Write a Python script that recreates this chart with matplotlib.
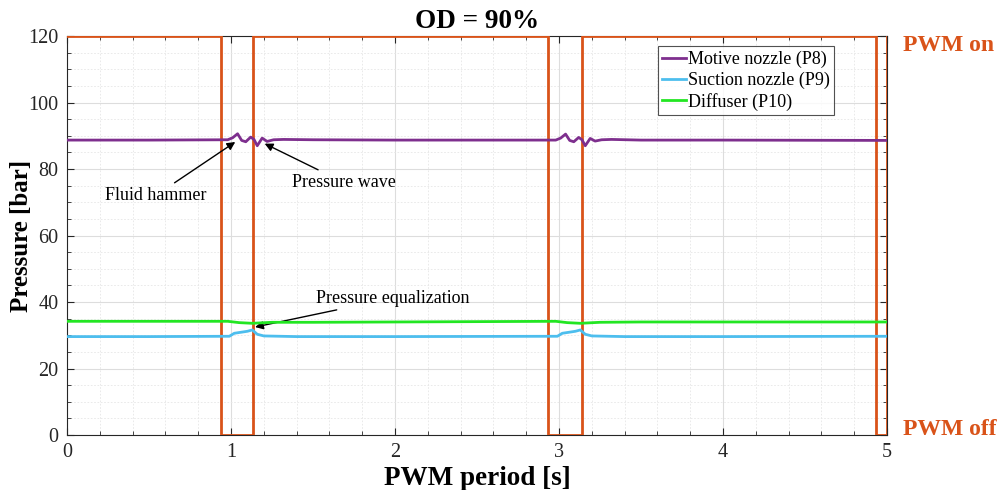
import matplotlib
matplotlib.use("Agg")
import matplotlib.pyplot as plt
from matplotlib.ticker import MultipleLocator

plt.rcParams['font.family'] = ['Liberation Serif', 'DejaVu Serif']

# PWM signal (on = 120, off = 0)
pwm_t = [0.0, 0.94, 0.94, 1.135, 1.135, 2.935, 2.935, 3.14, 3.14, 4.93, 4.93, 5.0, 5.0]
pwm_v = [120, 120, 0, 0, 120, 120, 0, 0, 120, 120, 0, 0, 120]

# Motive nozzle (P8)
p8_t = [0.0, 0.5, 0.98, 1.01, 1.04, 1.065, 1.09, 1.12, 1.14, 1.16, 1.19, 1.22, 1.26, 1.32, 1.5,
        2.0, 2.98, 3.01, 3.04, 3.065, 3.09, 3.12, 3.14, 3.16, 3.19, 3.22, 3.26, 3.32, 3.5, 4.0, 5.0]
p8_v = [88.7, 88.7, 88.8, 89.4, 90.6, 88.6, 88.2, 89.6, 88.9, 87.0, 89.3, 88.3, 88.8, 88.9, 88.8,
        88.7, 88.7, 89.3, 90.5, 88.6, 88.2, 89.5, 88.8, 87.0, 89.2, 88.4, 88.8, 88.9, 88.7, 88.7, 88.6]

# Suction nozzle (P9)
p9_t = [0.0, 0.5, 0.99, 1.02, 1.06, 1.10, 1.13, 1.16, 1.20, 1.4, 2.0,
        2.99, 3.02, 3.06, 3.10, 3.13, 3.16, 3.20, 3.4, 4.0, 5.0]
p9_v = [29.6, 29.6, 29.7, 30.6, 30.9, 31.2, 31.6, 30.3, 29.8, 29.6, 29.6,
        29.7, 30.6, 30.9, 31.2, 31.6, 30.3, 29.8, 29.6, 29.6, 29.7]

# Diffuser (P10)
p10_t = [0.0, 0.5, 0.98, 1.05, 1.13, 1.25, 1.5, 2.0,
         2.98, 3.05, 3.13, 3.25, 3.5, 4.0, 5.0]
p10_v = [34.2, 34.2, 34.2, 33.8, 33.6, 33.9, 33.9, 34.0,
         34.2, 33.8, 33.6, 33.9, 34.0, 34.0, 34.0]

fig = plt.figure(figsize=(9.97, 4.9), dpi=100)
ax = fig.add_axes([0.0672, 0.1122, 0.8225, 0.8143])

ax.plot(pwm_t, pwm_v, color='#D95319', lw=2.0, zorder=3)
ax.plot(p8_t, p8_v, color='#7E2F8E', lw=2.0, label='Motive nozzle (P8)', zorder=4)
ax.plot(p9_t, p9_v, color='#4DBEEE', lw=2.0, label='Suction nozzle (P9)', zorder=4)
ax.plot(p10_t, p10_v, color='#22E622', lw=2.0, label='Diffuser (P10)', zorder=4)

ax.set_xlim(0, 5)
ax.set_ylim(0, 120)
ax.xaxis.set_major_locator(MultipleLocator(1))
ax.xaxis.set_minor_locator(MultipleLocator(0.2))
ax.yaxis.set_major_locator(MultipleLocator(20))
ax.yaxis.set_minor_locator(MultipleLocator(5))
ax.grid(which='major', color='#dddddd', lw=0.8)
ax.grid(which='minor', color='#e6e6e6', lw=0.6, ls=(0, (2, 2)))
ax.set_axisbelow(True)
ax.tick_params(which='both', direction='in', top=True, right=True, labelsize=14.5, colors='#262626')
ax.tick_params(which='major', length=5, pad=6)
ax.tick_params(which='minor', length=3)
for s in ax.spines.values():
    s.set_color('#262626')
    s.set_linewidth(0.8)

ax.set_xlabel('PWM period [s]', fontsize=19.5, fontweight='bold', va='center')
ax.xaxis.set_label_coords(0.5, -0.108)
ax.set_ylabel('Pressure [bar]', fontsize=18, fontweight='bold', va='center')
ax.yaxis.set_label_coords(-0.055, 0.5)
ax.set_title('OD = 90%', fontsize=19.5, fontweight='bold', pad=6)

leg = ax.legend(loc='upper right', bbox_to_anchor=(0.9355, 0.974), fontsize=13,
                frameon=True, fancybox=False, edgecolor='#262626', handlelength=1.3,
                handletextpad=0.1, borderpad=0.25, labelspacing=0.2, borderaxespad=0)
leg.get_frame().set_linewidth(0.8)

ax.text(1.019, 0.975, 'PWM on', transform=ax.transAxes, color='#D95319', fontsize=17,
        fontweight='bold', va='center', ha='left')
ax.text(1.019, 0.015, 'PWM off', transform=ax.transAxes, color='#D95319', fontsize=17,
        fontweight='bold', va='center', ha='left')

arr = dict(arrowstyle='-|>', color='black', lw=1.0, mutation_scale=12)
ax.annotate('Fluid hammer', xy=(1.04, 88.6), xytext=(0.23, 72), fontsize=13,
            ha='left', va='center', arrowprops=arr)
ax.annotate('Pressure wave', xy=(1.19, 88.0), xytext=(1.37, 76), fontsize=13,
            ha='left', va='center', arrowprops=arr)
ax.annotate('Pressure equalization', xy=(1.13, 32.3), xytext=(1.52, 41.2), fontsize=13,
            ha='left', va='center', arrowprops=arr)

fig.savefig('out.png', dpi=100)
